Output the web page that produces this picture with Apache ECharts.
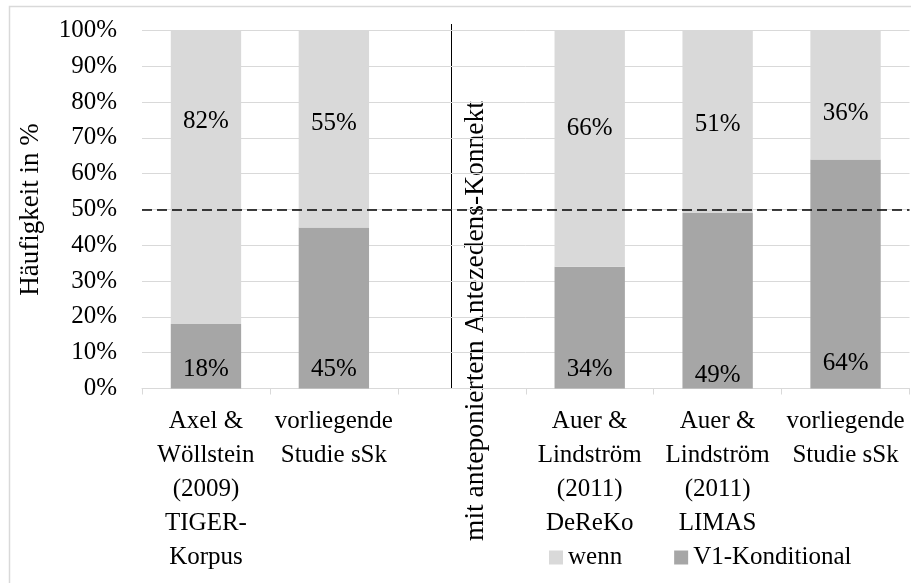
<!DOCTYPE html>
<html>
<head>
<meta charset="utf-8">
<script src="https://cdn.jsdelivr.net/npm/echarts@6/dist/echarts.min.js"></script>
<style>
  html, body { margin: 0; padding: 0; background: #fff; }
  #chart { width: 911px; height: 583px; }
</style>
</head>
<body>
<div id="chart"></div>
<script>
// Kategorien (Studien); die dritte Spalte bleibt leer als Trenner
const categories = [
  'Axel &\nWöllstein\n(2009)\nTIGER-\nKorpus',
  'vorliegende\nStudie sSk',
  '',
  'Auer &\nLindström\n(2011)\nDeReKo',
  'Auer &\nLindström\n(2011)\nLIMAS',
  'vorliegende\nStudie sSk'
];
// Anteile in Prozent
const v1Konditional = [18, 45, null, 34, 49, 64];
const wenn = [82, 55, null, 66, 51, 36];
const seriesNames = ['wenn', 'V1-Konditional'];
const yTicks = { min: 0, max: 100, step: 10 };
const referenceLine = 50;
const dividerText = 'mit anteponiertem Antezedens-Konnekt';

// manuelle Feinjustierung der Beschriftungen (vertikaler Versatz in px)
const wennLabelShift = [1, 3, 0, 8, 4, -7];
const v1LabelShift = [0, 0, 0, 0, 6, -6];

const FONT = 'Liberation Serif';
const FS = 25;
const LIGHT = '#d9d9d9';
const DARK = '#a6a6a6';

const chart = echarts.init(document.getElementById('chart'), null, { renderer: 'canvas' });

const labelFmt = p => (p.value == null ? '' : p.value + '%');
const withShift = (values, shifts) =>
  values.map((v, i) => ({ value: v, label: { offset: [0, shifts[i]] } }));

chart.setOption({
  animation: false,
  backgroundColor: '#fff',
  textStyle: { fontFamily: FONT, color: '#000' },
  grid: { left: 142, right: 1.5, top: 30.5, bottom: 194.5, containLabel: false },
  legend: {
    data: seriesNames,
    left: 544,
    top: 540,
    icon: 'rect',
    itemWidth: 14,
    itemHeight: 14,
    itemGap: 52,
    textStyle: { fontFamily: FONT, fontSize: FS, color: '#000' }
  },
  xAxis: {
    type: 'category',
    data: categories,
    axisLine: { lineStyle: { color: LIGHT, width: 1 } },
    axisTick: { show: true, length: 6, interval: 0, lineStyle: { color: LIGHT } },
    axisLabel: {
      interval: 0,
      margin: 16,
      fontFamily: FONT,
      fontSize: FS,
      color: '#000',
      lineHeight: 34,
      align: 'center'
    }
  },
  yAxis: {
    type: 'value',
    min: yTicks.min,
    max: yTicks.max,
    interval: yTicks.step,
    name: 'Häufigkeit in %',
    nameLocation: 'middle',
    nameRotate: 90,
    nameGap: 98,
    nameTextStyle: { fontFamily: FONT, fontSize: 27, color: '#000' },
    axisLine: { show: false },
    axisTick: { show: false },
    axisLabel: {
      formatter: '{value}%',
      margin: 25,
      fontFamily: FONT,
      fontSize: FS,
      color: '#000'
    },
    splitLine: { lineStyle: { color: LIGHT, width: 1 } }
  },
  series: [
    {
      name: seriesNames[1],
      type: 'bar',
      stack: 'anteil',
      barWidth: '55%',
      data: withShift(v1Konditional, v1LabelShift),
      itemStyle: { color: DARK },
      label: {
        show: true,
        position: 'insideBottom',
        distance: 7,
        formatter: labelFmt,
        fontFamily: FONT,
        fontSize: FS,
        color: '#000'
      }
    },
    {
      name: seriesNames[0],
      type: 'bar',
      stack: 'anteil',
      barWidth: '55%',
      data: withShift(wenn, wennLabelShift),
      itemStyle: { color: LIGHT },
      label: {
        show: true,
        position: 'insideTop',
        distance: 77,
        formatter: labelFmt,
        fontFamily: FONT,
        fontSize: FS,
        color: '#000'
      },
      markLine: {
        silent: true,
        symbol: ['none', 'none'],
        label: { show: false },
        lineStyle: { color: '#000', type: [10, 5], width: 1.5 },
        data: [{ yAxis: referenceLine }]
      }
    }
  ],
  graphic: [
    {
      type: 'rect',
      shape: { x: 9.5, y: 6.5, width: 910, height: 590 },
      style: { fill: 'none', stroke: LIGHT, lineWidth: 1.5 },
      silent: true
    },
    {
      type: 'line',
      shape: { x1: 451.5, y1: 24, x2: 451.5, y2: 388.5 },
      style: { stroke: '#000', lineWidth: 1 },
      silent: true
    },
    {
      type: 'text',
      x: 476,
      y: 321,
      rotation: Math.PI / 2,
      style: {
        text: dividerText,
        font: '27.5px "' + FONT + '"',
        fill: '#000',
        textAlign: 'center',
        textVerticalAlign: 'middle'
      },
      silent: true
    }
  ]
});
</script>
</body>
</html>
